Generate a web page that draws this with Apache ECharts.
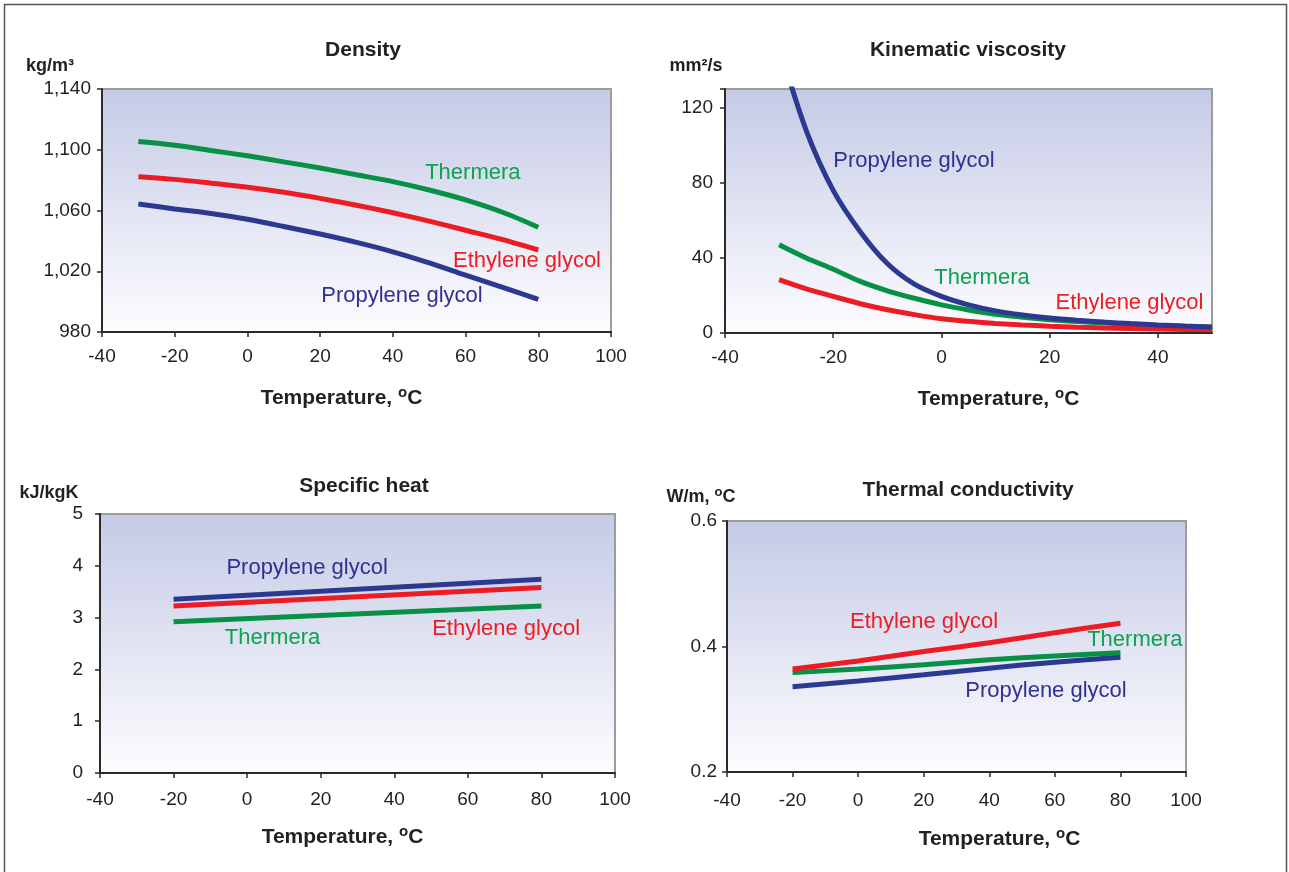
<!DOCTYPE html>
<html><head><meta charset="utf-8">
<script src="https://cdn.jsdelivr.net/npm/echarts@6/dist/echarts.min.js"></script>
<style>html,body{margin:0;padding:0;background:#fff}#c{width:1289px;height:872px}</style>
</head><body><div id="c"></div>
<script>
// ---------- data ----------
const seriesNames = ['Thermera', 'Ethylene glycol', 'Propylene glycol'];

const densityTemps = [-30, -20, -10, 0, 10, 20, 30, 40, 50, 60, 70, 80];
const densityThermera  = [1105.4, 1103, 1099.5, 1096, 1092, 1088, 1083.5, 1079, 1073.5, 1067, 1059, 1049];
const densityEthylene  = [1082.3, 1080.5, 1078, 1075.3, 1072, 1068, 1063.5, 1058.5, 1053, 1047, 1041, 1034];
const densityPropylene = [1064.3, 1061, 1058, 1054.2, 1049.5, 1044.5, 1039, 1032.8, 1025.5, 1017.4, 1009.5, 1001.5];

const viscTemps = [-30, -25, -20, -15, -10, -5, 0, 5, 10, 15, 20, 25, 30, 35, 40, 45, 50];
const viscPropylene = [153, 108, 76, 54, 37, 26, 19.5, 15, 11.8, 9.6, 8, 6.8, 5.8, 5, 4.3, 3.7, 3.2];
const viscThermera  = [47, 40, 34, 27.5, 22.5, 18.5, 15, 12.3, 10, 8.4, 7.1, 6.1, 5.3, 4.6, 4, 3.5, 3];
const viscEthylene  = [28.4, 23.5, 19.5, 15.6, 12.4, 9.8, 7.6, 6.2, 5.1, 4.3, 3.6, 3.1, 2.7, 2.4, 2.1, 1.9, 1.7];

const heatTemps = [-20, 80];
const heatPropylene = [3.355, 3.74];
const heatEthylene  = [3.226, 3.58];
const heatThermera  = [2.92, 3.226];

const condTemps = [-20, 0, 20, 40, 60, 80];
const condEthylene  = [0.364, 0.377, 0.392, 0.406, 0.422, 0.437];
const condThermera  = [0.3586, 0.364, 0.371, 0.379, 0.385, 0.390];
const condPropylene = [0.336, 0.345, 0.355, 0.3655, 0.375, 0.383];

const chartTitles = ['Density', 'Kinematic viscosity', 'Specific heat', 'Thermal conductivity'];
const unitLabels = ['kg/m³', 'mm²/s', 'kJ/kgK', 'W/m, '];
const xAxisTitle = 'Temperature, ';

// ---------- styling ----------
const FONT = '"Liberation Sans", Arial, Helvetica, sans-serif';
const COLORS = { 'Thermera': '#079146', 'Ethylene glycol': '#ed1c24', 'Propylene glycol': '#2b3990' };
const LABEL_COLORS = { 'Thermera': '#0ca24e', 'Ethylene glycol': '#ed1c24', 'Propylene glycol': '#2e3192' };
const BG = { type: 'linear', x: 0, y: 0, x2: 0, y2: 1,
  colorStops: [{ offset: 0, color: '#c5cae6' }, { offset: 1, color: '#fdfdff' }] };

const pairs = (xs, ys) => xs.map((x, i) => [x, ys[i]]);

const grids = [
  { left: 102, top: 89, width: 509, height: 243 },
  { left: 725, top: 89, width: 487, height: 244 },
  { left: 100, top: 514, width: 515, height: 259 },
  { left: 727, top: 521, width: 459, height: 251 }
].map(g => Object.assign(g, { show: true, backgroundColor: BG, borderColor: '#9c9c9c', borderWidth: 2 }));

const axisLineStyle = { show: true, onZero: false, lineStyle: { color: '#2a2a2a', width: 2 } };
const tickStyle = { show: true, length: 5, lineStyle: { color: '#2a2a2a', width: 1.5 } };
const tickLabel = { color: '#222', fontSize: 19, fontFamily: FONT };
const nameRich = {
  a: { fontSize: 21, fontWeight: 'bold', fontFamily: FONT, color: '#222', lineHeight: 26 },
  s: { fontSize: 15, fontWeight: 'bold', fontFamily: FONT, color: '#222', lineHeight: 26, verticalAlign: 'top' }
};

function xAxis(gi, max, margin, gap, pad) {
  return {
    type: 'value', gridIndex: gi, min: -40, max: max, interval: 20,
    axisLine: axisLineStyle, axisTick: tickStyle, splitLine: { show: false },
    axisLabel: Object.assign({ margin: margin, showMaxLabel: max === 100 }, tickLabel),
    name: '{a|' + xAxisTitle + '}{s|o}{a|C}', nameLocation: 'middle', nameGap: gap,
    nameTextStyle: { rich: nameRich, padding: pad }
  };
}
function yAxis(gi, min, max, interval, margin, fmt) {
  return {
    type: 'value', gridIndex: gi, min: min, max: max, interval: interval,
    axisLine: axisLineStyle, axisTick: tickStyle, splitLine: { show: false },
    axisLabel: Object.assign({ margin: margin, formatter: fmt, showMaxLabel: true }, tickLabel)
  };
}

const xAxes = [
  xAxis(0, 100, 15, 53, [0, 30, 0, 0]),
  xAxis(1, 50, 15, 53, [0, 0, 0, 60]),
  xAxis(2, 100, 17, 51, [0, 30, 0, 0]),
  xAxis(3, 100, 19, 54, [0, 0, 0, 86])
];
const yAxes = [
  yAxis(0, 980, 1140, 40, 11, v => v.toLocaleString('en-US')),
  yAxis(1, 0, 130, 40, 12, v => (v === 130 ? '' : String(v))),
  yAxis(2, 0, 5, 1, 17, v => String(v)),
  yAxis(3, 0.2, 0.6, 0.2, 10, v => v.toFixed(1))
];

function line(gi, name, data, labelCoord, smooth) {
  return {
    type: 'line', name: name, xAxisIndex: gi, yAxisIndex: gi,
    data: data, showSymbol: false, symbol: 'none', smooth: smooth,
    clip: true, silent: true,
    lineStyle: { color: COLORS[name], width: 5, cap: 'butt' },
    markPoint: {
      silent: true, symbol: 'circle', symbolSize: 1, itemStyle: { color: 'rgba(0,0,0,0)' },
      label: { show: true, position: 'inside', formatter: name, color: LABEL_COLORS[name],
               fontSize: 22, fontFamily: FONT },
      data: [{ coord: labelCoord }]
    }
  };
}

const series = [
  line(0, 'Thermera', pairs(densityTemps, densityThermera), [62, 1084.7], 0.3),
  line(0, 'Ethylene glycol', pairs(densityTemps, densityEthylene), [76.9, 1026.7], 0.3),
  line(0, 'Propylene glycol', pairs(densityTemps, densityPropylene), [42.5, 1003.7], 0.3),

  line(1, 'Thermera', pairs(viscTemps, viscThermera), [7.5, 29.3], 0.3),
  line(1, 'Ethylene glycol', pairs(viscTemps, viscEthylene), [34.75, 16], 0.3),
  line(1, 'Propylene glycol', pairs(viscTemps, viscPropylene), [-5.07, 91.8], 0.3),

  line(2, 'Propylene glycol', pairs(heatTemps, heatPropylene), [16.3, 3.963], false),
  line(2, 'Ethylene glycol', pairs(heatTemps, heatEthylene), [70.4, 2.78], false),
  line(2, 'Thermera', pairs(heatTemps, heatThermera), [6.9, 2.606], false),

  line(3, 'Thermera', pairs(condTemps, condThermera), [84.4, 0.4104], 0.3),
  line(3, 'Propylene glycol', pairs(condTemps, condPropylene), [57.3, 0.3296], 0.3),
  line(3, 'Ethylene glycol', pairs(condTemps, condEthylene), [20.1, 0.4395], 0.3)
];

const titlePos = [[358, 35], [963, 35], [359, 471], [963, 475]];
const titles = chartTitles.map((t, i) => ({
  text: t, left: titlePos[i][0], top: titlePos[i][1], textAlign: 'center',
  textStyle: { fontSize: 21, fontWeight: 'bold', fontFamily: FONT, color: '#222' }
}));

const unitPos = [[50, 66], [696, 66], [49, 493], [701, 497]];
const unitGraphics = unitLabels.map((u, i) => ({
  type: 'text', x: unitPos[i][0], y: unitPos[i][1], silent: true,
  style: i === 3 ? {
    text: '{a|' + u + '}{s|o}{a|C}', align: 'center', verticalAlign: 'middle',
    rich: {
      a: { fontSize: 18, fontWeight: 'bold', fontFamily: FONT, fill: '#222', lineHeight: 22 },
      s: { fontSize: 13, fontWeight: 'bold', fontFamily: FONT, fill: '#222', lineHeight: 22, verticalAlign: 'top' }
    }
  } : {
    text: u, align: 'center', verticalAlign: 'middle',
    fontSize: 18, fontWeight: 'bold', fontFamily: FONT, fill: '#222'
  }
}));

const chart = echarts.init(document.getElementById('c'), null, { renderer: 'canvas' });
chart.setOption({
  animation: false,
  backgroundColor: '#ffffff',
  title: titles,
  grid: grids,
  xAxis: xAxes,
  yAxis: yAxes,
  series: series,
  graphic: [
    { type: 'rect', silent: true, shape: { x: 4.5, y: 4.5, width: 1282, height: 900 },
      style: { fill: 'none', stroke: '#555', lineWidth: 1.5 } }
  ].concat(unitGraphics)
});
</script>
</body></html>
